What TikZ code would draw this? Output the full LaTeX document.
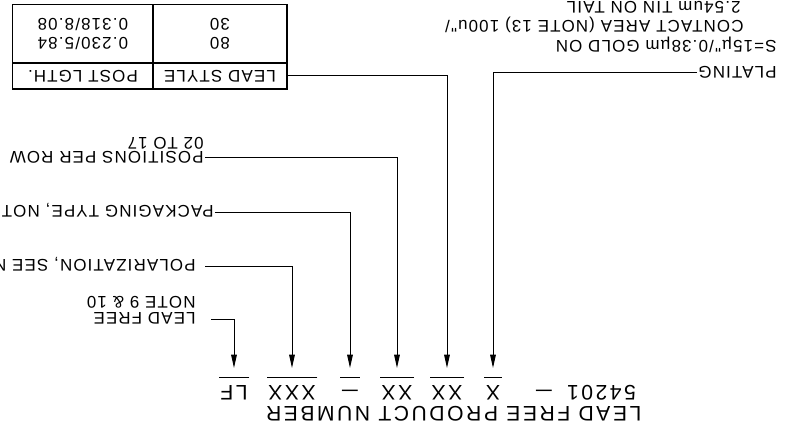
\documentclass[tikz,border=0pt]{standalone}
\usepackage{fontspec}
\setmainfont{Liberation Sans}
\newfontfamily\labelfont{Liberation Sans}[LetterSpace=7]
\newfontfamily\fieldfont{Liberation Sans}[LetterSpace=12]
\usetikzlibrary{positioning,arrows.meta}
\newcommand{\longdash}{\scalebox{1.35}[1]{–}}

\begin{document}
\begin{tikzpicture}[
    x=0.025cm, y=-0.025cm, rotate=180, transform shape,
    lbl/.style={inner sep=1pt, outer sep=0pt, font=\labelfont\fontsize{12}{14}\selectfont, text height=8.6pt, text depth=0pt},
    cell/.style={draw, line width=0.8pt, outer sep=0pt, inner sep=0pt, align=center, font=\labelfont\fontsize{12}{13.5}\selectfont},
    field/.style={inner xsep=1pt, inner ysep=0pt, font=\fieldfont\fontsize{15}{17}\selectfont, text height=10.7pt, text depth=0pt},
    leader/.style={line width=0.7pt},
    arrow/.style={leader, -{Triangle[length=9.5pt,width=4pt]}}
]
\useasboundingbox (0,0) rectangle (787,438);
\clip (0,0) rectangle (787,438);

% Part number
\node (title) [field, anchor=west] at (144,24) {LEAD FREE PRODUCT NUMBER};
\node (fbase) [field] at (185.5,45) {54201};
\node (fdash) [field] at (243,45) {\longdash};
\node (fplate) [field] at (294,45) {X};
\node (fstyle) [field] at (340,45) {XX};
\node (frows) [field] at (390,45) {XX};
\node (fpack) [field] at (437,45) {\longdash};
\node (fpol) [field] at (495,45) {XXX};
\node (flf) [field] at (553,45) {LF};

\coordinate (ul) at (0,61);
\coordinate (tip) at (0,70);
\foreach \f in {fplate,fstyle,frows,fpack,fpol,flf}
    \draw[leader] (\f.west |- ul) -- (\f.east |- ul);

% Plating
\node (plating) [lbl, anchor=west] at (9,365) {PLATING};
\node (gold) [lbl, anchor=west] at (9,391) {S=15µ"/0.38µm GOLD ON};
\node (contact) [lbl, anchor=west] at (42,411) {CONTACT AREA (NOTE 13) 100u"/};
\node (tin) [lbl, anchor=west] at (45,430) {2.54um TIN ON TAIL};

% Lead style table
\node (lstyle) [cell, minimum width=95.3pt, minimum height=18.5pt] at (567,362) {LEAD STYLE};
\node (plength) [cell, minimum width=99.6pt, minimum height=18.5pt, right=0pt of lstyle] {POST LGTH.};
\node (lvals) [cell, minimum width=95.3pt, minimum height=41.3pt, below=0pt of lstyle] {80\\30};
\node (pvals) [cell, minimum width=99.6pt, minimum height=41.3pt, below=0pt of plength] {0.230/5.84\\0.318/8.08};

% Right hand labels
\node (posrow) [lbl, anchor=west] at (582,280) {POSITIONS PER ROW};
\node (rowrange) [lbl, below right=0pt and 0pt of posrow.south west] {02 TO 17};
\node (pack) [lbl, anchor=west] at (572,226) {PACKAGING TYPE, NOTE};
\node (pol) [lbl, anchor=west] at (590,172) {POLARIZATION, SEE NOTE};
\node (lfree) [lbl, anchor=west] at (590,119) {LEAD FREE};
\node (lfnote) [lbl, below right=1pt and 0pt of lfree.south west] {NOTE 9 \& 10};

% Arrows
\draw[arrow] (plating.east) -| (fplate |- tip);
\draw[arrow] (lstyle.west) -| (fstyle |- tip);
\draw[arrow] (posrow.west) -| (frows |- tip);
\draw[arrow] (pack.west) -| (fpack |- tip);
\draw[arrow, shorten <=6pt] (pol.west) -| (fpol |- tip);
\draw[arrow, shorten <=10pt] (lfree.west) -| (flf |- tip);

\end{tikzpicture}
\end{document}
